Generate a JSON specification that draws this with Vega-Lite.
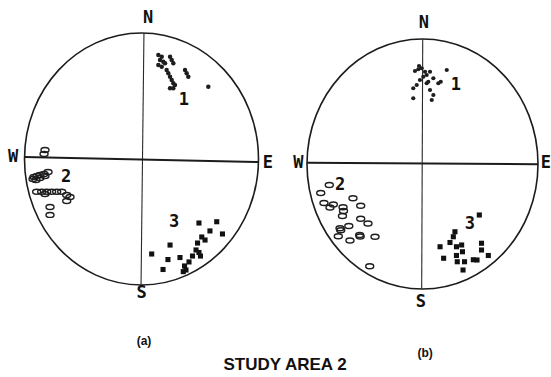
{
  "$schema": "https://vega.github.io/schema/vega-lite/v6.json",
  "background": "white",
  "padding": 0,
  "spacing": 0,
  "bounds": "flush",
  "config": {"view": {"stroke": null}, "concat": {"spacing": 0}},
  "datasets": {
    "a_points": [
      {"x": 0.144, "y": 0.825, "cluster": "1"}, {"x": 0.173, "y": 0.812, "cluster": "1"}, {"x": 0.158, "y": 0.786, "cluster": "1"},
      {"x": 0.186, "y": 0.772, "cluster": "1"}, {"x": 0.244, "y": 0.812, "cluster": "1"}, {"x": 0.258, "y": 0.786, "cluster": "1"},
      {"x": 0.272, "y": 0.760, "cluster": "1"}, {"x": 0.144, "y": 0.746, "cluster": "1"}, {"x": 0.173, "y": 0.733, "cluster": "1"},
      {"x": 0.201, "y": 0.760, "cluster": "1"}, {"x": 0.215, "y": 0.706, "cluster": "1"}, {"x": 0.229, "y": 0.680, "cluster": "1"},
      {"x": 0.244, "y": 0.653, "cluster": "1"}, {"x": 0.258, "y": 0.627, "cluster": "1"}, {"x": 0.272, "y": 0.601, "cluster": "1"},
      {"x": 0.272, "y": 0.561, "cluster": "1"}, {"x": 0.244, "y": 0.561, "cluster": "1"}, {"x": 0.286, "y": 0.587, "cluster": "1"},
      {"x": 0.372, "y": 0.706, "cluster": "1"}, {"x": 0.386, "y": 0.680, "cluster": "1"}, {"x": 0.400, "y": 0.653, "cluster": "1"},
      {"x": 0.571, "y": 0.574, "cluster": "1"},
      {"x": -0.825, "y": 0.071, "cluster": "2"}, {"x": -0.833, "y": 0.040, "cluster": "2"}, {"x": -0.799, "y": -0.103, "cluster": "2"},
      {"x": -0.833, "y": -0.119, "cluster": "2"}, {"x": -0.868, "y": -0.127, "cluster": "2"}, {"x": -0.893, "y": -0.135, "cluster": "2"},
      {"x": -0.919, "y": -0.143, "cluster": "2"}, {"x": -0.927, "y": -0.159, "cluster": "2"}, {"x": -0.902, "y": -0.167, "cluster": "2"},
      {"x": -0.868, "y": -0.151, "cluster": "2"}, {"x": -0.825, "y": -0.135, "cluster": "2"}, {"x": -0.896, "y": -0.260, "cluster": "2"},
      {"x": -0.853, "y": -0.260, "cluster": "2"}, {"x": -0.810, "y": -0.260, "cluster": "2"}, {"x": -0.768, "y": -0.260, "cluster": "2"},
      {"x": -0.725, "y": -0.260, "cluster": "2"}, {"x": -0.682, "y": -0.260, "cluster": "2"}, {"x": -0.825, "y": -0.278, "cluster": "2"},
      {"x": -0.639, "y": -0.286, "cluster": "2"}, {"x": -0.611, "y": -0.302, "cluster": "2"}, {"x": -0.639, "y": -0.333, "cluster": "2"},
      {"x": -0.782, "y": -0.381, "cluster": "2"}, {"x": -0.782, "y": -0.444, "cluster": "2"},
      {"x": 0.087, "y": -0.754, "cluster": "3"}, {"x": 0.244, "y": -0.683, "cluster": "3"}, {"x": 0.226, "y": -0.798, "cluster": "3"},
      {"x": 0.184, "y": -0.877, "cluster": "3"}, {"x": 0.329, "y": -0.782, "cluster": "3"}, {"x": 0.380, "y": -0.881, "cluster": "3"},
      {"x": 0.406, "y": -0.817, "cluster": "3"}, {"x": 0.436, "y": -0.770, "cluster": "3"}, {"x": 0.466, "y": -0.722, "cluster": "3"},
      {"x": 0.491, "y": -0.742, "cluster": "3"}, {"x": 0.504, "y": -0.770, "cluster": "3"}, {"x": 0.479, "y": -0.667, "cluster": "3"},
      {"x": 0.515, "y": -0.619, "cluster": "3"}, {"x": 0.543, "y": -0.643, "cluster": "3"}, {"x": 0.491, "y": -0.508, "cluster": "3"},
      {"x": 0.585, "y": -0.571, "cluster": "3"}, {"x": 0.643, "y": -0.498, "cluster": "3"}, {"x": 0.692, "y": -0.595, "cluster": "3"},
      {"x": 0.368, "y": -0.849, "cluster": "3"}, {"x": 0.357, "y": -0.894, "cluster": "3"}
    ],
    "b_points": [
      {"x": -0.065, "y": 0.744, "cluster": "1"}, {"x": -0.036, "y": 0.758, "cluster": "1"}, {"x": -0.007, "y": 0.766, "cluster": "1"},
      {"x": 0.022, "y": 0.738, "cluster": "1"}, {"x": 0.036, "y": 0.712, "cluster": "1"}, {"x": 0.065, "y": 0.738, "cluster": "1"},
      {"x": 0.094, "y": 0.686, "cluster": "1"}, {"x": 0.137, "y": 0.646, "cluster": "1"}, {"x": 0.158, "y": 0.658, "cluster": "1"},
      {"x": 0.210, "y": 0.752, "cluster": "1"}, {"x": -0.050, "y": 0.632, "cluster": "1"}, {"x": -0.080, "y": 0.606, "cluster": "1"},
      {"x": -0.080, "y": 0.526, "cluster": "1"}, {"x": 0.036, "y": 0.646, "cluster": "1"}, {"x": 0.065, "y": 0.592, "cluster": "1"},
      {"x": 0.094, "y": 0.552, "cluster": "1"}, {"x": 0.080, "y": 0.512, "cluster": "1"}, {"x": 0.007, "y": 0.698, "cluster": "1"},
      {"x": -0.022, "y": 0.672, "cluster": "1"}, {"x": 0.050, "y": 0.658, "cluster": "1"}, {"x": -0.030, "y": 0.784, "cluster": "1"},
      {"x": -0.807, "y": -0.168, "cluster": "2"}, {"x": -0.881, "y": -0.232, "cluster": "2"}, {"x": -0.853, "y": -0.312, "cluster": "2"},
      {"x": -0.801, "y": -0.348, "cluster": "2"}, {"x": -0.772, "y": -0.324, "cluster": "2"}, {"x": -0.688, "y": -0.346, "cluster": "2"},
      {"x": -0.684, "y": -0.376, "cluster": "2"}, {"x": -0.602, "y": -0.274, "cluster": "2"}, {"x": -0.535, "y": -0.334, "cluster": "2"},
      {"x": -0.693, "y": -0.416, "cluster": "2"}, {"x": -0.535, "y": -0.438, "cluster": "2"}, {"x": -0.472, "y": -0.476, "cluster": "2"},
      {"x": -0.638, "y": -0.496, "cluster": "2"}, {"x": -0.714, "y": -0.514, "cluster": "2"}, {"x": -0.708, "y": -0.530, "cluster": "2"},
      {"x": -0.729, "y": -0.578, "cluster": "2"}, {"x": -0.628, "y": -0.612, "cluster": "2"}, {"x": -0.544, "y": -0.568, "cluster": "2"},
      {"x": -0.540, "y": -0.580, "cluster": "2"}, {"x": -0.411, "y": -0.582, "cluster": "2"}, {"x": -0.457, "y": -0.818, "cluster": "2"},
      {"x": 0.152, "y": -0.662, "cluster": "3"}, {"x": 0.183, "y": -0.754, "cluster": "3"}, {"x": 0.238, "y": -0.628, "cluster": "3"},
      {"x": 0.267, "y": -0.582, "cluster": "3"}, {"x": 0.281, "y": -0.542, "cluster": "3"}, {"x": 0.294, "y": -0.662, "cluster": "3"},
      {"x": 0.294, "y": -0.732, "cluster": "3"}, {"x": 0.301, "y": -0.782, "cluster": "3"}, {"x": 0.339, "y": -0.648, "cluster": "3"},
      {"x": 0.346, "y": -0.702, "cluster": "3"}, {"x": 0.364, "y": -0.782, "cluster": "3"}, {"x": 0.351, "y": -0.848, "cluster": "3"},
      {"x": 0.440, "y": -0.766, "cluster": "3"}, {"x": 0.472, "y": -0.768, "cluster": "3"}, {"x": 0.511, "y": -0.634, "cluster": "3"},
      {"x": 0.511, "y": -0.688, "cluster": "3"}, {"x": 0.570, "y": -0.732, "cluster": "3"}, {"x": 0.492, "y": -0.408, "cluster": "3"}
    ],
    "a_lines": [
      {"line": "NS", "x": 0.021, "y": 1, "x2": -0.004, "y2": -1},
      {"line": "EW", "x": -1, "y": 0.016, "x2": 1, "y2": -0.024}
    ],
    "b_lines": [
      {"line": "NS", "x": 0.002, "y": 1, "x2": -0.007, "y2": -1},
      {"line": "EW", "x": -1, "y": 0.010, "x2": 1, "y2": -0.002}
    ],
    "a_labels": [
      {"kind": "compass", "label": "N", "x": 0.056, "y": 1.119},
      {"kind": "compass", "label": "S", "x": 0.002, "y": -1.063},
      {"kind": "compass", "label": "W", "x": -1.098, "y": 0.016},
      {"kind": "compass", "label": "E", "x": 1.081, "y": -0.032},
      {"kind": "compass", "label": "1", "x": 0.363, "y": 0.468},
      {"kind": "compass", "label": "2", "x": -0.645, "y": -0.143},
      {"kind": "compass", "label": "3", "x": 0.278, "y": -0.500},
      {"kind": "caption", "label": "(a)", "x": 0.021, "y": -1.444}
    ],
    "b_labels": [
      {"kind": "compass", "label": "N", "x": 0.013, "y": 1.126},
      {"kind": "compass", "label": "S", "x": -0.013, "y": -1.102},
      {"kind": "compass", "label": "W", "x": -1.075, "y": 0.006},
      {"kind": "compass", "label": "E", "x": 1.069, "y": 0.006},
      {"kind": "compass", "label": "1", "x": 0.290, "y": 0.632},
      {"kind": "compass", "label": "2", "x": -0.714, "y": -0.168},
      {"kind": "compass", "label": "3", "x": 0.411, "y": -0.480},
      {"kind": "caption", "label": "(b)", "x": 0.022, "y": -1.512},
      {"kind": "title", "label": "STUDY AREA 2", "x": -1.190, "y": -1.608}
    ],
    "origin": [{"x": 0, "y": 0}]
  },
  "hconcat": [
    {
      "width": 281,
      "height": 377,
      "encoding": {
        "x": {"field": "x", "type": "quantitative", "scale": {"domain": [-1.2094, 1.1923], "nice": false, "zero": false}, "axis": null},
        "y": {"field": "y", "type": "quantitative", "scale": {"domain": [-1.7302, 1.2619], "nice": false, "zero": false}, "axis": null}
      },
      "layer": [
        {
          "data": {"name": "origin"},
          "mark": {"type": "point", "shape": "M -1 0 A 1 1.077 0 1 1 1 0 A 1 1.077 0 1 1 -1 0 Z", "size": 54756, "filled": false, "stroke": "#1c1c1c", "strokeWidth": 1.6, "opacity": 1}
        },
        {
          "data": {"name": "a_lines"},
          "transform": [{"filter": "datum.line === 'NS'"}],
          "mark": {"type": "rule", "color": "#2a2a2a", "strokeWidth": 1.1},
          "encoding": {"x2": {"field": "x2"}, "y2": {"field": "y2"}}
        },
        {
          "data": {"name": "a_lines"},
          "transform": [{"filter": "datum.line === 'EW'"}],
          "mark": {"type": "rule", "color": "#1c1c1c", "strokeWidth": 2},
          "encoding": {"x2": {"field": "x2"}, "y2": {"field": "y2"}}
        },
        {
          "data": {"name": "a_points"},
          "transform": [{"filter": "datum.cluster === '1'"}],
          "mark": {"type": "point", "shape": "circle", "filled": true, "size": 20, "color": "#1e1e1e", "opacity": 1}
        },
        {
          "data": {"name": "a_points"},
          "transform": [{"filter": "datum.cluster === '2'"}],
          "mark": {"type": "point", "shape": "M -1 0 A 1 0.62 0 1 1 1 0 A 1 0.62 0 1 1 -1 0 Z", "filled": false, "size": 64, "stroke": "#1e1e1e", "strokeWidth": 1.4, "opacity": 1}
        },
        {
          "data": {"name": "a_points"},
          "transform": [{"filter": "datum.cluster === '3'"}],
          "mark": {"type": "point", "shape": "square", "filled": true, "size": 26, "color": "#111111", "opacity": 1}
        },
        {
          "data": {"name": "a_labels"},
          "transform": [{"filter": "datum.kind === 'compass'"}],
          "mark": {"type": "text", "font": "DejaVu Sans Mono", "fontWeight": "bold", "fontSize": 17, "align": "center", "baseline": "middle", "color": "#111111"},
          "encoding": {"text": {"field": "label"}}
        },
        {
          "data": {"name": "a_labels"},
          "transform": [{"filter": "datum.kind === 'caption'"}],
          "mark": {"type": "text", "font": "Liberation Sans", "fontWeight": "bold", "fontSize": 12, "align": "center", "baseline": "middle", "color": "#111111"},
          "encoding": {"text": {"field": "label"}}
        }
      ]
    },
    {
      "width": 270,
      "height": 377,
      "encoding": {
        "x": {"field": "x", "type": "quantitative", "scale": {"domain": [-1.2251, 1.1126], "nice": false, "zero": false}, "axis": null},
        "y": {"field": "y", "type": "quantitative", "scale": {"domain": [-1.704, 1.312], "nice": false, "zero": false}, "axis": null}
      },
      "layer": [
        {
          "data": {"name": "origin"},
          "mark": {"type": "point", "shape": "M -1 0 A 1 1.082 0 1 1 1 0 A 1 1.082 0 1 1 -1 0 Z", "size": 53361, "filled": false, "stroke": "#1c1c1c", "strokeWidth": 1.6, "opacity": 1}
        },
        {
          "data": {"name": "b_lines"},
          "transform": [{"filter": "datum.line === 'NS'"}],
          "mark": {"type": "rule", "color": "#2a2a2a", "strokeWidth": 1.1},
          "encoding": {"x2": {"field": "x2"}, "y2": {"field": "y2"}}
        },
        {
          "data": {"name": "b_lines"},
          "transform": [{"filter": "datum.line === 'EW'"}],
          "mark": {"type": "rule", "color": "#1c1c1c", "strokeWidth": 2},
          "encoding": {"x2": {"field": "x2"}, "y2": {"field": "y2"}}
        },
        {
          "data": {"name": "b_points"},
          "transform": [{"filter": "datum.cluster === '1'"}],
          "mark": {"type": "point", "shape": "circle", "filled": true, "size": 18, "color": "#1e1e1e", "opacity": 1}
        },
        {
          "data": {"name": "b_points"},
          "transform": [{"filter": "datum.cluster === '2'"}],
          "mark": {"type": "point", "shape": "M -1 0 A 1 0.62 0 1 1 1 0 A 1 0.62 0 1 1 -1 0 Z", "filled": false, "size": 64, "stroke": "#1e1e1e", "strokeWidth": 1.4, "opacity": 1}
        },
        {
          "data": {"name": "b_points"},
          "transform": [{"filter": "datum.cluster === '3'"}],
          "mark": {"type": "point", "shape": "square", "filled": true, "size": 26, "color": "#111111", "opacity": 1}
        },
        {
          "data": {"name": "b_labels"},
          "transform": [{"filter": "datum.kind === 'compass'"}],
          "mark": {"type": "text", "font": "DejaVu Sans Mono", "fontWeight": "bold", "fontSize": 17, "align": "center", "baseline": "middle", "color": "#111111"},
          "encoding": {"text": {"field": "label"}}
        },
        {
          "data": {"name": "b_labels"},
          "transform": [{"filter": "datum.kind === 'caption'"}],
          "mark": {"type": "text", "font": "Liberation Sans", "fontWeight": "bold", "fontSize": 12, "align": "center", "baseline": "middle", "color": "#111111"},
          "encoding": {"text": {"field": "label"}}
        },
        {
          "data": {"name": "b_labels"},
          "transform": [{"filter": "datum.kind === 'title'"}],
          "mark": {"type": "text", "font": "Liberation Sans", "fontWeight": "bold", "fontSize": 17, "align": "center", "baseline": "middle", "color": "#111111"},
          "encoding": {"text": {"field": "label"}}
        }
      ]
    }
  ]
}
